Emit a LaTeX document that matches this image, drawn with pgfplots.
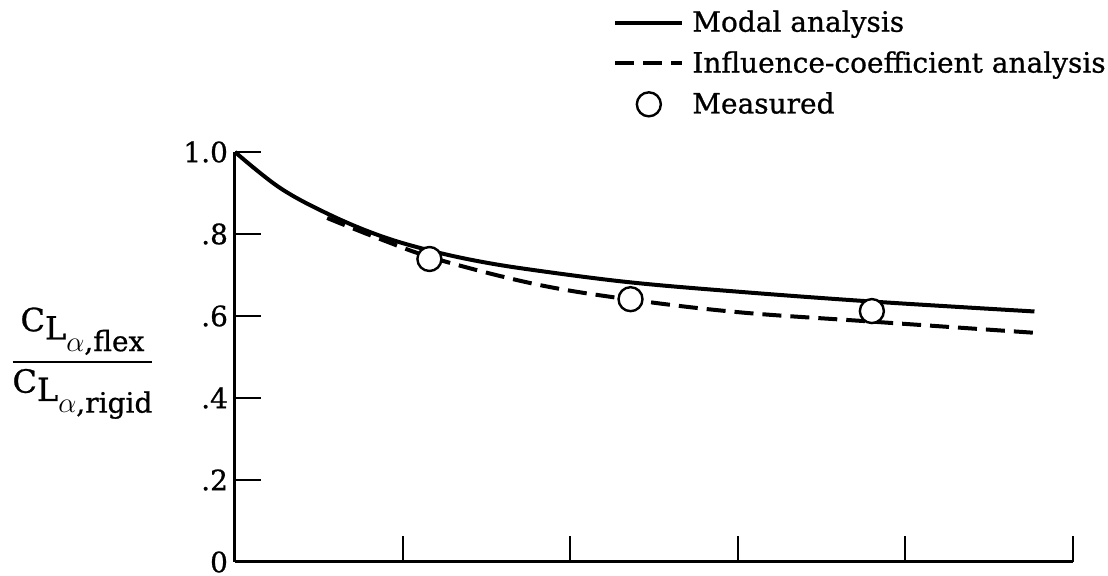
\documentclass[border=0pt]{standalone}
\usepackage{amsmath}
\usepackage{fontspec}
\setmainfont{DejaVu Serif}[FakeBold=0.8]
\usepackage{pgfplots}
\pgfplotsset{compat=1.18}

\newcommand\mainsize{\fontsize{14}{16}\selectfont}
\newcommand\cla[1]{{\fontsize{16}{18}\selectfont C\raisebox{-0.5ex}{L\raisebox{-0.7ex}{\fontsize{14}{15}\selectfont$\alpha$,#1}}}}

\begin{document}
\begin{tikzpicture}
\begin{axis}[
  scale only axis,
  width=419pt, height=205pt,
  xmin=0, xmax=5, ymin=0, ymax=1,
  axis lines=left,
  axis line style={-, line width=1.5pt},
  clip=false,
  xtick={1,2,3,4,5}, xticklabels={},
  ytick={0,0.2,0.4,0.6,0.8,1.0},
  yticklabels={0,.2,.4,.6,.8,1.0},
  tick align=inside,
  major tick length=13pt,
  tick style={line width=1pt, black},
  tick label style={font=\mainsize},
  /pgf/number format/assume math mode=true,
  every axis y label/.style={at={(rel axis cs:-0.182,0.485)}, anchor=center},
  ylabel={$\genfrac{}{}{1pt}{0}{\hbox{\cla{flex}}}{\hbox{\cla{rigid}}}$},
  legend style={draw=none, fill=none, font=\mainsize,
    at={(rel axis cs:0.451,1.356)}, anchor=north west,
    row sep=4.3pt, column sep=2pt, inner sep=0pt,
    nodes={inner sep=2pt}},
  legend cell align=left,
  legend image code/.code={\draw[mark repeat=2, mark phase=2, #1]
    plot coordinates {(0pt,0pt) (16.75pt,0pt) (33.5pt,0pt)};},
]
% modal analysis
\addplot[black, line width=2pt, smooth, tension=0.6] coordinates {
  (0,1.0) (0.27,0.912) (0.57,0.846) (0.87,0.795) (1.16,0.760)
  (1.46,0.733) (1.80,0.711) (2.36,0.682) (3.01,0.659) (3.81,0.635) (4.77,0.611)
};
\addlegendentry{Modal analysis}
% influence-coefficient analysis
\addplot[black, line width=2pt, dash pattern=on 9.5pt off 4.5pt, smooth, tension=0.6] coordinates {
  (0.55,0.839) (0.87,0.787) (1.21,0.738) (1.80,0.677) (2.36,0.640)
  (3.01,0.609) (3.81,0.586) (4.77,0.559)
};
\addlegendentry{Influence-coefficient analysis}
% measured points
\addplot[only marks, mark=*, mark size=6pt, mark options={fill=white, draw=black, line width=1.2pt}] coordinates {
  (1.16,0.739) (2.36,0.641) (3.80,0.612)
};
\addlegendentry{Measured}
\end{axis}
\pgfresetboundingbox
\useasboundingbox (-117.5pt,-7pt) rectangle (436.5pt,281pt);
\end{tikzpicture}
\end{document}
